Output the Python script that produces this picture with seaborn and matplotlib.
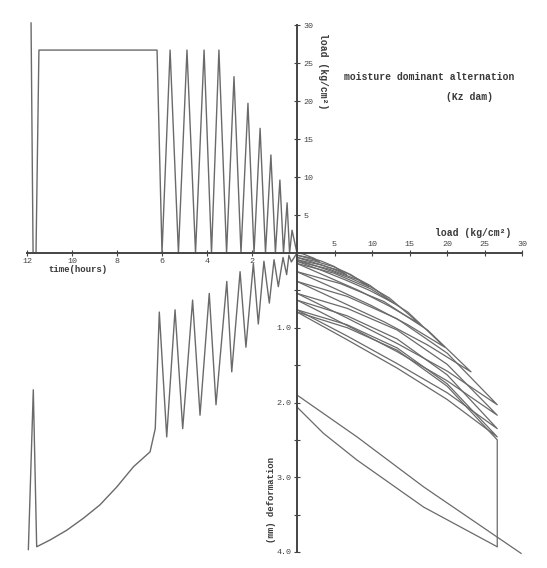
import numpy as np
import pandas as pd
import seaborn as sns
import matplotlib.pyplot as plt

sns.set_style("ticks")
plt.rcParams['font.family'] = ['Liberation Mono', 'DejaVu Sans Mono']

# --- load history, top left (time in hours, load in kg/cm2) ---
load_t = [0.00, 0.22, 0.33, 0.44, 0.60, 0.76, 0.96, 1.16, 1.40, 1.64, 1.91,
          2.18, 2.49, 2.80, 3.13, 3.47, 3.80, 4.13, 4.51, 4.89, 5.27, 5.64,
          6.00, 6.22, 11.47, 11.60, 11.73, 11.82]
load_v = [0, 3.0, 0, 6.6, 0, 9.6, 0, 12.9, 0, 16.4, 0,
          19.7, 0, 23.2, 0, 26.7, 0, 26.7, 0, 26.7, 0, 26.7,
          0, 26.7, 26.7, 0, 0, 30.3]

# --- deformation history, bottom left (time in hours, mm) ---
def_t = [0.00, 0.25, 0.36, 0.46, 0.62, 0.83, 1.02, 1.23, 1.47, 1.72, 1.94,
         2.27, 2.53, 2.90, 3.12, 3.60, 3.90, 4.31, 4.64, 5.08, 5.42, 5.79,
         6.12, 6.30, 6.53, 7.27, 8.01, 8.76, 9.50, 10.24, 10.98, 11.57,
         11.72, 11.94]
def_v = [0.00, 0.12, 0.03, 0.29, 0.06, 0.45, 0.09, 0.67, 0.11, 0.95, 0.14,
         1.26, 0.25, 1.59, 0.38, 2.03, 0.54, 2.17, 0.63, 2.35, 0.76, 2.46,
         0.79, 2.35, 2.66, 2.86, 3.13, 3.37, 3.55, 3.71, 3.84, 3.93,
         1.83, 3.97]

# --- load/deformation loops, bottom right ---
# deformation at 0, P/4, P/2, 3P/4, P on loading, then 3P/4, P/2, P/4, 0 on unloading
cyc_peak = [3.0, 6.6, 9.6, 12.9, 16.4, 19.7, 23.2, 26.7, 26.7, 26.7, 26.7]
cyc_def = [
    [0.00, 0.01, 0.04, 0.07, 0.12, 0.09, 0.07, 0.05, 0.03],
    [0.03, 0.06, 0.11, 0.18, 0.29, 0.22, 0.16, 0.11, 0.06],
    [0.06, 0.11, 0.18, 0.29, 0.45, 0.34, 0.25, 0.17, 0.09],
    [0.09, 0.16, 0.26, 0.43, 0.67, 0.50, 0.36, 0.23, 0.11],
    [0.11, 0.21, 0.36, 0.60, 0.95, 0.71, 0.50, 0.32, 0.14],
    [0.14, 0.27, 0.48, 0.79, 1.26, 0.96, 0.70, 0.47, 0.25],
    [0.25, 0.41, 0.65, 1.03, 1.59, 1.23, 0.92, 0.65, 0.38],
    [0.38, 0.58, 0.88, 1.34, 2.03, 1.58, 1.21, 0.87, 0.54],
    [0.54, 0.74, 1.03, 1.49, 2.17, 1.71, 1.32, 0.97, 0.63],
    [0.63, 0.84, 1.15, 1.63, 2.35, 1.87, 1.48, 1.11, 0.76],
    [0.76, 0.96, 1.27, 1.75, 2.46, 1.96, 1.54, 1.16, 0.79],
]
hold_load = [0, 6.7, 13.35, 20.0, 26.7, 26.7]
hold_d = [0.79, 1.00, 1.30, 1.78, 2.50, 3.93]
unload_load = [26.7, 16.9, 8.0, 3.5, 0]
unload_d = [3.93, 3.40, 2.77, 2.41, 2.06]
reload_load = [0, 0, 8.0, 16.9, 29.9]
reload_d = [2.06, 1.90, 2.46, 3.13, 4.02]

time_ticks = [2, 4, 6, 8, 10, 12]
load_ticks = [5, 10, 15, 20, 25, 30]
def_major = [1, 2, 3, 4]
def_minor = [0.5, 1.5, 2.5, 3.5]

line_c = '#6a6a6a'
axis_c = '#444444'

# long table for the loops
rows = []
for i, p in enumerate(cyc_peak):
    xs = [0, p / 4, p / 2, 3 * p / 4, p, 3 * p / 4, p / 2, p / 4, 0]
    for k, (a, b) in enumerate(zip(xs, cyc_def[i])):
        rows.append({'loop': i, 'order': k, 'load': a, 'def': b})
n = len(cyc_peak)
for j, (lx, ly) in enumerate([(hold_load, hold_d), (unload_load, unload_d),
                               (reload_load, reload_d)]):
    for k, (a, b) in enumerate(zip(lx, ly)):
        rows.append({'loop': n + j, 'order': k, 'load': a, 'def': b})
loops = pd.DataFrame(rows)

W, H = 547, 568
fig = plt.figure(figsize=(W / 100, H / 100), dpi=100)
ax_tl = fig.add_axes([27 / W, 1 - 253 / H, 270 / W, 228 / H])
ax_bl = fig.add_axes([27 / W, 1 - 552 / H, 270 / W, 299 / H])
ax_br = fig.add_axes([297 / W, 1 - 552 / H, 225 / W, 299 / H])

for ax in (ax_tl, ax_bl, ax_br):
    ax.patch.set_alpha(0)
    for s in ax.spines.values():
        s.set_visible(False)
        s.set_color(axis_c)
        s.set_linewidth(1.4)

# top left: load vs time
sns.lineplot(x=load_t, y=load_v, sort=False, estimator=None, ax=ax_tl,
             color=line_c, lw=1.0)
for ln in ax_tl.lines:
    ln.set_clip_on(False)
ax_tl.set_xlim(12, 0)
ax_tl.set_ylim(0, 30)
ax_tl.spines['bottom'].set_visible(True)
ax_tl.spines['right'].set_visible(True)
ax_tl.yaxis.tick_right()
ax_tl.set_xticks(time_ticks)
ax_tl.set_xticklabels([str(t) for t in time_ticks])
ax_tl.set_yticks(load_ticks)
ax_tl.set_yticklabels([str(t) for t in load_ticks])
ax_tl.tick_params(axis='x', bottom=True, top=False, direction='inout',
                  length=4, width=0.8, colors=axis_c, labelsize=6, pad=1.5)
ax_tl.tick_params(axis='y', right=True, left=False, labelright=True,
                  labelleft=False, direction='inout', length=4, width=0.8,
                  colors=axis_c, labelsize=6, pad=2.5)
ax_tl.set_xlabel('')
ax_tl.set_ylabel('')

# bottom left: deformation vs time
sns.lineplot(x=def_t, y=def_v, sort=False, estimator=None, ax=ax_bl,
             color=line_c, lw=1.0)
ax_bl.set_xlim(12, 0)
ax_bl.set_ylim(4, 0)
ax_bl.set_xticks([])
ax_bl.set_yticks([])
ax_bl.set_xlabel('')
ax_bl.set_ylabel('')

# bottom right: deformation vs load
sns.lineplot(data=loops, x='load', y='def', units='loop', estimator=None,
             sort=False, ax=ax_br, color=line_c, lw=0.9, legend=False)
for ln in ax_br.lines:
    ln.set_clip_on(False)
ax_br.set_xlim(0, 30)
ax_br.set_ylim(4, 0)
ax_br.spines['top'].set_visible(True)
ax_br.spines['left'].set_visible(True)
ax_br.xaxis.tick_top()
ax_br.set_xticks(load_ticks)
ax_br.set_xticklabels([str(t) for t in load_ticks])
ax_br.set_yticks(def_major)
ax_br.set_yticklabels(['%.1f' % v for v in def_major])
ax_br.set_yticks(def_minor, minor=True)
ax_br.tick_params(axis='x', top=True, bottom=False, labeltop=True,
                  labelbottom=False, direction='inout', length=4, width=0.8,
                  colors=axis_c, labelsize=6, pad=1.5)
ax_br.tick_params(axis='y', which='both', left=True, right=False,
                  direction='inout', length=4, width=0.8, colors=axis_c,
                  labelsize=6, pad=2)
ax_br.set_xlabel('')
ax_br.set_ylabel('')

# texts
tc = '#3a3a3a'
fig.text(429 / W, 1 - 77 / H, 'moisture dominant alternation', ha='center',
         va='center', fontsize=7, color=tc, fontweight='bold')
fig.text(470 / W, 1 - 97 / H, '(Kz dam)', ha='center', va='center',
         fontsize=7, color=tc, fontweight='bold')
fig.text(473 / W, 1 - 233 / H, 'load (kg/cm²)', ha='center', va='center',
         fontsize=7, color=tc, fontweight='bold')
fig.text(323 / W, 1 - 71 / H, 'load (kg/cm²)', ha='center', va='center',
         rotation=-90, fontsize=7, color=tc, fontweight='bold')
fig.text(78 / W, 1 - 269 / H, 'time(hours)', ha='center', va='center',
         fontsize=6.5, color=tc, fontweight='bold')
fig.text(271 / W, 1 - 500 / H, '(mm) deformation', ha='center', va='center',
         rotation=90, fontsize=6.5, color=tc, fontweight='bold')

fig.savefig('out.png', dpi=100, facecolor='white')
